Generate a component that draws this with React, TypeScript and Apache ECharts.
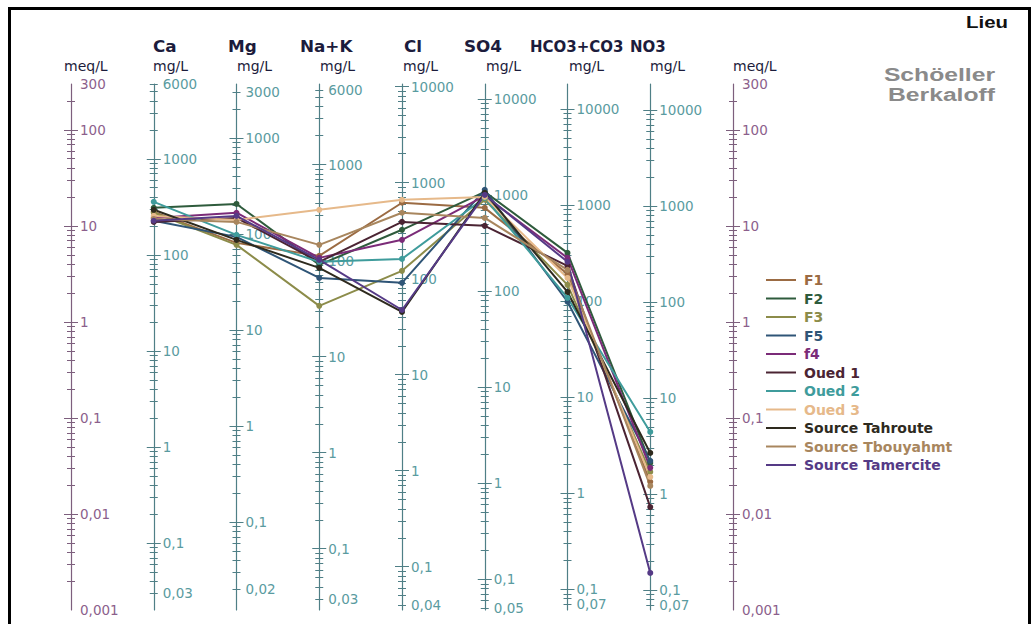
import React, { useEffect, useRef } from "react";
import * as echarts from "echarts";

// Ions (column order) and their equivalent weights (mg per meq)
const IONS = ["Ca", "Mg", "Na+K", "Cl", "SO4", "HCO3+CO3", "NO3"];
const EQW = [20.04, 12.15, 23.0, 35.45, 48.03, 61.02, 62.0];

// mg/L tick labels of each ion axis
const CA_LABELS = [0.03, 0.1, 1, 10, 100, 1000, 6000];
const MG_LABELS = [0.02, 0.1, 1, 10, 100, 1000, 3000];
const NAK_LABELS = [0.03, 0.1, 1, 10, 100, 1000, 6000];
const CL_LABELS = [0.04, 0.1, 1, 10, 100, 1000, 10000];
const SO4_LABELS = [0.05, 0.1, 1, 10, 100, 1000, 10000];
const HCO3_LABELS = [0.07, 0.1, 1, 10, 100, 1000, 10000];
const NO3_LABELS = [0.07, 0.1, 1, 10, 100, 1000, 10000];
const ION_LABELS = [CA_LABELS, MG_LABELS, NAK_LABELS, CL_LABELS, SO4_LABELS, HCO3_LABELS, NO3_LABELS];
// meq/L scale
const MEQ_MIN = 0.001;
const MEQ_MAX = 300;
const MEQ_LABELS = [0.001, 0.01, 0.1, 1, 10, 100, 300];

// Sample values, meq/L, in column order Ca, Mg, Na+K, Cl, SO4, HCO3+CO3, NO3
const F1 = [14.0, 6.65, 4.87, 17.4, 15.4, 3.16, 0.0216];
const F2 = [15.4, 16.9, 3.93, 9.1, 22.6, 5.23, 0.034];
const F3 = [13.7, 6.34, 1.47, 3.4, 18.7, 2.43, 0.0274];
const F5 = [11.3, 7.68, 2.87, 2.55, 23.7, 1.62, 0.0357];
const f4 = [12.1, 13.7, 4.64, 7.15, 20.5, 4.64, 0.0302];
const OUED1 = [11.0, 12.1, 4.22, 11.0, 10.0, 3.83, 0.0118];
const OUED2 = [17.8, 8.06, 4.22, 4.53, 19.6, 1.78, 0.0715];
const OUED3 = [12.7, 11.5, 14.7, 18.7, 20.0, 2.87, 0.0243];
const TAHROUTE = [14.7, 7.15, 3.65, 1.27, 22.1, 2.05, 0.0432];
const TBOUYAHMT = [11.8, 11.0, 6.34, 13.7, 12.1, 3.48, 0.0196];
const TAMERCITE = [11.3, 12.7, 4.42, 1.33, 21.0, 4.22, 0.00243];

const SERIES_NAMES = ["F1", "F2", "F3", "F5", "f4", "Oued 1", "Oued 2", "Oued 3", "Source Tahroute", "Source Tbouyahmt", "Source Tamercite"];
const SERIES_VALUES = [F1, F2, F3, F5, f4, OUED1, OUED2, OUED3, TAHROUTE, TBOUYAHMT, TAMERCITE];
const SERIES_COLORS = ["#9b6b43", "#2e5b3c", "#8c8c4a", "#2f5577", "#7b2b78", "#4b2433", "#3f9c9c", "#e6b98a", "#2e2a1e", "#a8865e", "#553a86"];

const GRID_LEFT = 71;
const GRID_RIGHT_X = 733;
const STEP = (GRID_RIGHT_X - GRID_LEFT) / 8;

const fmt = (v: number) =>
  v >= 1 ? String(Math.round(v)) : String(parseFloat(v.toPrecision(3))).replace(".", ",");

function logTicks(min: number, max: number, withOne: boolean) {
  const out: number[] = [];
  for (let e = -4; e <= 5; e++) {
    for (let k = withOne ? 1 : 2; k <= (withOne ? 1 : 9); k++) {
      const v = parseFloat((k * Math.pow(10, e)).toPrecision(3));
      if (v >= min * 1.0001 && v <= max * 0.9999) out.push(v);
    }
  }
  return out;
}

function makeAxes(col: number, min: number, max: number, labels: number[], lineColor: string, labelColor: string) {
  const off = -col * STEP;
  const base = {
    type: "log" as const,
    min,
    max,
    position: "left" as const,
    splitLine: { show: false },
    axisLine: { show: false, onZero: false },
    axisLabel: { show: false },
    axisTick: { show: false },
  };
  return [
    {
      ...base,
      offset: off,
      axisLine: { show: true, onZero: false, lineStyle: { color: lineColor, width: 1.2 } },
      axisLabel: {
        show: true,
        inside: true,
        margin: 9,
        customValues: labels,
        formatter: (v: number) => fmt(v),
        color: labelColor,
        fontFamily: "DejaVu Sans",
        fontSize: 13.5,
      },
    },
    {
      ...base,
      offset: off - 7,
      axisTick: {
        show: true,
        inside: false,
        length: 14,
        customValues: logTicks(min, max, true),
        lineStyle: { color: lineColor, width: 1 },
      },
    },
    {
      ...base,
      offset: off - 4,
      axisTick: {
        show: true,
        inside: false,
        length: 8,
        customValues: logTicks(min, max, false),
        lineStyle: { color: lineColor, width: 1 },
      },
    },
  ];
}

export default function App() {
  const ref = useRef<HTMLDivElement>(null);
  useEffect(() => {
    if (!ref.current) return;
    const chart = echarts.init(ref.current, undefined, { renderer: "svg" });

    const meqLine = "#7d5f7d";
    const meqLabel = "#8c5f8c";
    const ionLine = "#4f7f86";
    const ionLabel = "#5a9ba0";

    const yAxes: any[] = [];
    yAxes.push(...makeAxes(0, MEQ_MIN, MEQ_MAX, MEQ_LABELS, meqLine, meqLabel));
    IONS.forEach((_, i) => {
      yAxes.push(...makeAxes(i + 1, MEQ_MIN * EQW[i], MEQ_MAX * EQW[i], ION_LABELS[i], ionLine, ionLabel));
    });
    yAxes.push(...makeAxes(8, MEQ_MIN, MEQ_MAX, MEQ_LABELS, meqLine, meqLabel));

    const series = SERIES_NAMES.map((name, s) => ({
      name,
      type: "line",
      xAxisIndex: 0,
      yAxisIndex: 0,
      data: SERIES_VALUES[s].map((v, i) => [i + 1, v]),
      symbol: "circle",
      symbolSize: 6,
      lineStyle: { width: 2, color: SERIES_COLORS[s] },
      itemStyle: { color: SERIES_COLORS[s] },
      z: 10,
    }));

    const headerX = [153, 228, 300, 404, 464, 530, 630];
    const headerScale = [1.12, 1.12, 1.12, 1.12, 1.12, 1.0, 1.0];
    const unitX = [64, 153, 237, 320, 403, 486, 569, 650, 733];
    const unitText = ["meq/L", "mg/L", "mg/L", "mg/L", "mg/L", "mg/L", "mg/L", "mg/L", "meq/L"];

    const graphics: any[] = [
      {
        type: "rect",
        shape: { x: 9.5, y: 8.5, width: 1020, height: 700 },
        style: { fill: "none", stroke: "#000", lineWidth: 3 },
        z: 100,
      },
      {
        type: "text",
        x: 1008,
        y: 22,
        scaleX: 1.2,
        style: { text: "Lieu", fill: "#111", font: "bold 17px 'Liberation Sans'", align: "right", verticalAlign: "middle" },
      },
      {
        type: "text",
        x: 995,
        y: 75,
        scaleX: 1.3,
        style: { text: "Schöeller", fill: "#8a8a8a", font: "bold 19px 'Liberation Sans'", align: "right", verticalAlign: "middle" },
      },
      {
        type: "text",
        x: 995,
        y: 95,
        scaleX: 1.3,
        style: { text: "Berkaloff", fill: "#8a8a8a", font: "bold 19px 'Liberation Sans'", align: "right", verticalAlign: "middle" },
      },
    ];
    IONS.forEach((name, i) => {
      graphics.push({
        type: "text",
        x: headerX[i],
        y: 47,
        scaleX: headerScale[i],
        style: { text: name, fill: "#1c1c3c", font: "bold 15px 'DejaVu Sans'", align: "left", verticalAlign: "middle" },
      });
    });
    unitText.forEach((t, i) => {
      graphics.push({
        type: "text",
        x: unitX[i],
        y: 66,
        style: { text: t, fill: "#1c1c3c", font: "14px 'DejaVu Sans'", align: "left", verticalAlign: "middle" },
      });
    });

    chart.setOption({
      animation: false,
      backgroundColor: "#ffffff",
      grid: { left: GRID_LEFT, right: 1034 - GRID_RIGHT_X, top: 84, bottom: 14, containLabel: false },
      xAxis: { type: "value", min: 0, max: 8, show: false },
      yAxis: yAxes,
      series,
      legend: {
        orient: "vertical",
        left: 766,
        top: 273,
        padding: 0,
        icon: "rect",
        itemWidth: 30,
        itemHeight: 2,
        itemGap: 4.5,
        data: SERIES_NAMES.map((n, s) => ({
          name: n,
          textStyle: { color: SERIES_COLORS[s] },
        })),
        textStyle: { fontFamily: "DejaVu Sans", fontWeight: "bold", fontSize: 14, padding: [0, 0, 0, 3] },
      },
      graphic: graphics,
    });
    return () => chart.dispose();
  }, []);
  return <div ref={ref} style={{ position: "absolute", left: 0, top: 0, width: 1034, height: 624 }} />;
}
